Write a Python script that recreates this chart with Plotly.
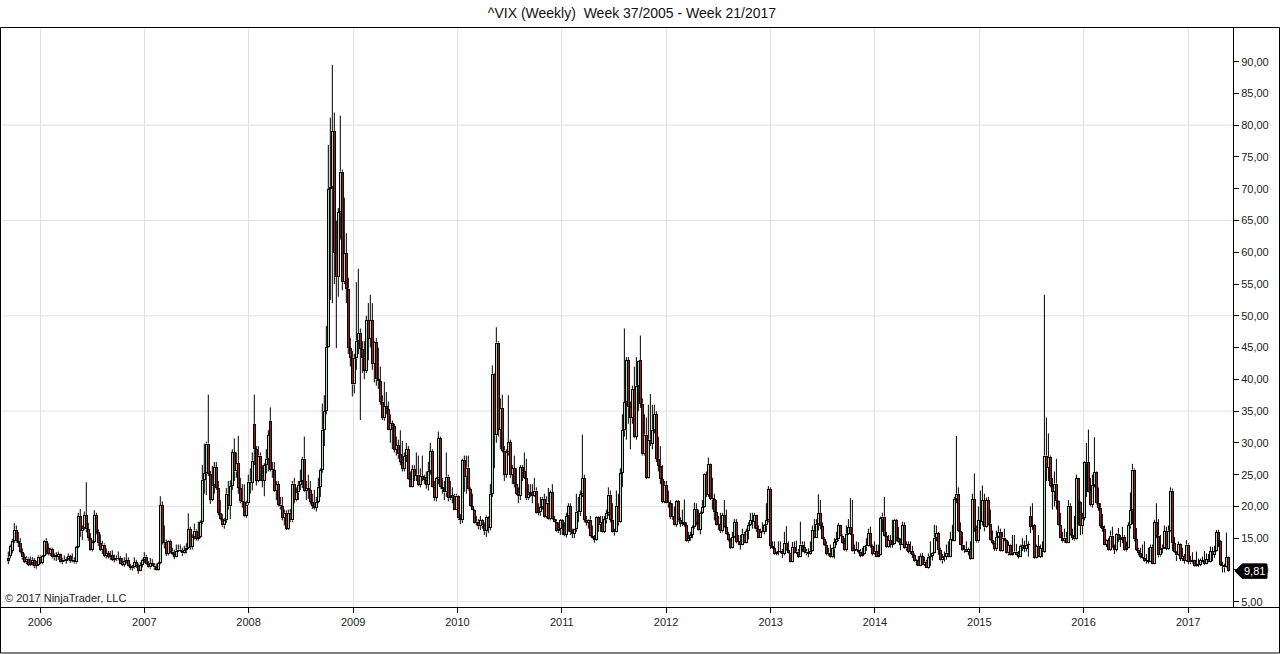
import pandas as pd
import plotly.graph_objects as go

# ---------------- data (weekly OHLC of ^VIX) ----------------
FIRST_WEEK = "2005-09-12"   # Monday of ISO week 37/2005
TITLE = "^VIX (Weekly)\u00a0 Week 37/2005 - Week 21/2017"
COPYRIGHT = "\u00a9 2017 NinjaTrader, LLC"

OPEN = [
    # 2005
    11.9, 12.2, 13.0, 14.6, 16.3, 14.5, 14.3, 12.8, 12.0, 11.3, 11.8, 10.8, 11.1, 11.5, 10.6, 10.8,
    # 2006
    12.1, 11.1, 12.2, 14.6, 13.4, 12.5, 13.3, 12.0, 12.3, 12.1, 12.5, 11.2, 11.6, 11.4, 11.8, 12.2, 11.4, 11.6, 11.2, 13.6,
    18.5, 16.1, 16.6, 18.6, 16.4, 15.0, 13.1, 14.4, 18.6, 16.0, 14.2, 13.2, 14.0, 12.2, 12.6, 12.1, 12.3, 11.6, 11.9, 11.7,
    11.9, 11.0, 10.8, 11.4, 11.5, 10.6, 10.3, 10.4, 11.2, 10.6, 9.9, 10.8,
    # 2007
    11.6, 12.1, 10.9, 10.4, 11.1, 10.7, 10.4, 10.0, 11.1, 20.2, 14.3, 14.4, 12.5, 14.6, 12.9, 12.5, 12.1, 13.0, 13.2, 13.0,
    12.6, 13.1, 13.5, 16.4, 13.6, 15.2, 16.2, 14.9, 15.2, 17.5, 24.2, 25.2, 29.9, 25.1, 21.0, 23.4, 26.2, 22.9, 19.0, 18.0,
    17.0, 17.9, 22.0, 20.0, 23.2, 28.5, 25.5, 26.8, 22.9, 20.8, 20.7, 18.5,
    # 2008
    20.5, 23.9, 23.7, 33.0, 29.0, 24.0, 28.0, 25.0, 24.0, 26.5, 27.5, 33.5, 25.8, 25.7, 22.5, 23.5, 20.3, 20.0, 18.2, 19.0,
    16.5, 19.0, 17.8, 23.6, 21.0, 22.2, 23.4, 24.0, 27.5, 22.5, 22.9, 22.6, 20.7, 20.1, 19.8, 20.7, 23.1, 25.7, 32.1, 35.0,
    45.1, 69.95, 70.3, 79.1, 59.9, 56.1, 66.3, 72.7, 55.3, 59.9, 54.3, 44.9,
    # 2009
    43.4, 39.2, 43.3, 46.1, 47.3, 44.8, 43.4, 41.3, 49.3, 46.4, 49.3, 42.4, 45.9, 40.0, 39.7, 36.5, 33.9, 35.8, 35.3, 32.1,
    33.1, 32.6, 28.9, 29.6, 28.2, 27.0, 25.9, 27.9, 29.0, 24.3, 23.1, 25.9, 24.8, 25.0, 23.4, 24.8, 24.6, 24.2, 23.4, 25.6,
    28.7, 23.1, 21.4, 24.4, 30.7, 23.0, 22.7, 22.2, 24.7, 21.3, 21.6, 21.7, 19.5,
    # 2010
    21.7, 18.1, 17.9, 27.3, 24.6, 26.1, 22.7, 20.0, 19.5, 17.4, 17.6, 16.9, 17.8, 17.0, 16.1, 18.4, 16.6, 22.0, 40.9, 31.2,
    45.8, 32.1, 35.5, 28.8, 25.0, 28.5, 30.1, 25.0, 26.0, 23.5, 22.0, 21.7, 26.2, 25.5, 24.5, 21.3, 22.0, 22.2, 21.7, 22.5,
    19.0, 19.1, 19.9, 21.2, 18.3, 20.6, 18.0, 22.2, 18.0, 17.6, 16.1, 16.5,
    # 2011
    17.8, 17.1, 15.5, 18.5, 20.0, 15.9, 15.7, 16.4, 19.2, 19.1, 21.9, 24.4, 17.9, 17.4, 17.9, 15.3, 15.0, 14.75, 18.4, 17.1,
    17.5, 16.0, 17.95, 18.9, 21.85, 17.9, 16.0, 15.95, 20.0, 17.5, 25.25, 32.0, 36.4, 43.0, 35.6, 33.9, 38.5, 31.0, 39.0, 43.0,
    36.2, 28.2, 31.3, 24.5, 30.5, 29.9, 32.1, 34.5, 27.5, 26.4, 24.3, 20.7,
    # 2012
    23.4, 20.6, 20.5, 18.3, 18.5, 17.1, 20.8, 17.8, 17.3, 17.5, 17.1, 14.5, 15.0, 15.5, 16.7, 19.6, 17.4, 16.3, 19.0, 19.9,
    25.1, 21.8, 26.7, 21.2, 21.1, 19.1, 17.1, 17.2, 16.1, 18.6, 16.7, 15.6, 14.7, 13.5, 15.2, 17.5, 14.4, 14.5, 14.0, 15.7,
    14.3, 16.1, 17.1, 17.8, 17.6, 18.6, 16.4, 15.1, 15.9, 16.0, 17.0, 17.8,
    # 2013
    22.7, 13.8, 13.4, 12.5, 12.95, 12.9, 13.0, 12.5, 14.2, 13.1, 12.6, 11.3, 13.6, 12.7, 12.9, 12.1, 14.0, 13.6, 12.9, 12.6,
    12.5, 13.0, 16.3, 15.1, 17.2, 18.9, 16.9, 14.9, 14.0, 12.5, 12.7, 12.0, 13.4, 14.4, 14.8, 17.0, 15.4, 14.2, 13.1, 15.7,
    16.7, 15.7, 13.0, 13.1, 13.2, 12.9, 12.2, 12.5, 13.7, 13.8, 15.8, 13.8,
    # 2014
    12.5, 13.0, 12.1, 12.4, 18.1, 18.4, 15.3, 13.6, 14.7, 14.0, 14.1, 17.8, 15.0, 14.4, 14.0, 17.0, 13.4, 14.1, 12.9, 13.0,
    12.4, 11.4, 11.5, 10.7, 12.2, 10.85, 11.3, 10.3, 12.1, 12.2, 12.7, 15.1, 15.8, 13.2, 11.5, 12.0, 12.1, 12.7, 12.1, 14.85,
    14.55, 21.2, 22.0, 16.1, 14.0, 13.1, 13.3, 12.9, 13.3, 11.8, 21.1, 16.5,
    # 2015
    14.5, 17.8, 17.6, 20.95, 16.7, 21.0, 17.3, 14.7, 14.3, 13.3, 15.2, 16.0, 13.0, 15.1, 14.7, 12.6, 13.9, 12.3, 12.7, 12.9,
    12.4, 12.1, 13.8, 13.7, 13.3, 13.96, 18.5, 16.8, 17.0, 11.95, 13.7, 12.1, 13.4, 12.8, 28.0, 26.1, 27.8, 23.2, 22.3, 23.6,
    20.9, 17.1, 15.05, 14.5, 15.1, 14.3, 20.1, 15.5, 15.1, 14.8, 24.4, 20.7, 16.9,
    # 2016
    18.2, 26.8, 27.0, 22.3, 20.2, 23.4, 25.4, 20.5, 19.8, 16.9, 16.5, 14.0, 14.7, 13.1, 15.4, 13.6, 13.2, 15.7, 14.7, 15.0,
    15.2, 13.1, 13.5, 17.0, 19.4, 25.8, 14.8, 13.2, 12.7, 12.0, 11.9, 11.4, 11.55, 11.3, 13.65, 11.0, 17.5, 15.4, 12.3, 13.3,
    13.5, 16.1, 13.3, 16.2, 22.5, 14.2, 12.85, 12.3, 14.1, 11.75, 12.2, 11.4,
    # 2017
    14.0, 11.3, 11.2, 11.5, 10.6, 10.9, 10.85, 11.5, 11.45, 10.96, 11.7, 11.3, 12.96, 12.4, 13.0, 15.96, 14.6, 10.8, 10.6, 10.4,
    12.0,
]

HIGH = [
    # 2005
    12.9, 14.0, 14.9, 17.4, 17.0, 16.0, 15.0, 13.4, 12.6, 12.2, 12.0, 12.1, 12.0, 11.9, 11.4, 12.3,
    # 2006
    12.3, 12.4, 14.7, 15.0, 14.2, 13.5, 13.5, 12.6, 12.8, 12.9, 12.6, 11.9, 12.3, 12.0, 12.6, 12.4, 12.6, 12.0, 13.8, 19.0,
    19.6, 17.0, 19.2, 23.8, 17.4, 15.8, 14.7, 19.4, 19.0, 16.4, 15.6, 14.6, 14.2, 13.4, 13.0, 13.0, 13.1, 12.4, 12.3, 12.9,
    12.2, 11.9, 12.0, 12.6, 12.0, 11.0, 10.8, 12.0, 11.6, 11.0, 11.2, 11.8,
    # 2007
    12.8, 12.4, 11.4, 11.9, 11.7, 11.1, 11.0, 11.3, 21.6, 20.8, 17.0, 14.8, 14.7, 14.8, 13.5, 13.2, 14.0, 14.0, 14.0, 13.5,
    13.8, 14.2, 18.9, 16.8, 15.6, 17.3, 16.4, 17.6, 17.8, 26.5, 29.9, 30.2, 37.6, 25.6, 26.4, 27.0, 27.0, 24.0, 21.0, 18.8,
    18.2, 22.9, 24.0, 24.1, 29.0, 30.7, 28.5, 31.1, 24.5, 23.5, 23.5, 20.9,
    # 2008
    25.0, 26.0, 28.5, 37.6, 29.5, 29.5, 28.5, 26.5, 26.8, 29.0, 32.0, 35.6, 27.0, 27.0, 24.0, 24.0, 21.5, 21.5, 19.5, 19.4,
    19.5, 19.6, 24.0, 24.5, 23.0, 24.0, 25.8, 27.8, 31.0, 24.0, 25.0, 24.0, 22.0, 22.6, 21.5, 24.5, 26.0, 36.2, 37.5, 48.4,
    76.9, 81.2, 89.5, 82.0, 65.0, 67.0, 81.5, 73.0, 68.6, 63.0, 56.0, 46.5,
    # 2009
    44.5, 44.0, 55.3, 57.4, 48.0, 46.0, 46.0, 50.0, 52.0, 53.3, 52.0, 46.0, 46.5, 45.0, 42.0, 37.5, 39.6, 38.0, 36.5, 34.5,
    33.5, 33.0, 31.0, 30.5, 32.0, 30.3, 28.5, 30.0, 29.5, 25.5, 26.5, 26.5, 28.5, 28.0, 26.0, 28.0, 25.0, 25.5, 27.0, 30.0,
    29.0, 24.0, 24.6, 31.8, 31.0, 24.5, 24.0, 28.5, 25.0, 24.0, 23.0, 22.0, 22.0,
    # 2010
    21.8, 18.8, 27.5, 28.0, 28.0, 28.0, 23.0, 22.0, 19.6, 18.5, 18.0, 18.5, 18.0, 17.5, 18.6, 18.5, 23.5, 42.2, 41.0, 48.2,
    46.0, 37.0, 37.6, 29.5, 29.0, 37.5, 30.5, 26.5, 28.0, 26.0, 23.0, 26.5, 26.5, 28.5, 27.5, 23.5, 23.5, 23.5, 24.5, 23.0,
    20.5, 21.5, 21.5, 22.0, 21.6, 22.9, 22.5, 23.5, 18.5, 18.0, 17.5, 18.0,
    # 2011
    18.0, 17.5, 19.0, 20.5, 20.5, 16.5, 16.5, 22.0, 21.5, 22.5, 31.3, 25.0, 18.5, 18.0, 18.5, 17.0, 15.5, 18.5, 18.5, 18.5,
    18.5, 18.5, 19.5, 23.0, 22.5, 20.5, 16.5, 22.5, 22.0, 26.0, 34.5, 48.0, 43.5, 43.5, 36.5, 39.0, 42.0, 43.5, 43.0, 46.9,
    37.0, 34.5, 34.0, 36.0, 37.7, 36.0, 36.0, 35.0, 31.0, 29.5, 26.5, 24.0,
    # 2012
    24.0, 22.5, 21.0, 20.5, 20.0, 21.0, 21.0, 18.3, 19.5, 21.1, 17.5, 16.0, 16.0, 17.0, 20.6, 20.5, 19.5, 19.2, 21.0, 25.2,
    25.5, 27.7, 26.8, 24.5, 22.0, 21.0, 18.5, 19.0, 19.0, 21.0, 19.5, 16.0, 15.0, 16.0, 18.0, 18.0, 15.5, 15.5, 16.5, 16.0,
    16.5, 17.5, 19.0, 19.0, 19.0, 18.7, 17.0, 16.5, 17.5, 17.2, 20.5, 23.2,
    # 2013
    23.0, 14.5, 14.5, 13.0, 14.5, 14.5, 13.3, 16.0, 16.9, 14.5, 12.7, 14.4, 14.5, 14.6, 13.3, 17.6, 14.5, 14.5, 13.3, 13.4,
    14.5, 17.0, 18.0, 18.0, 21.9, 21.0, 17.5, 15.2, 14.5, 13.5, 14.0, 13.5, 15.0, 16.0, 17.4, 17.1, 15.6, 15.0, 17.0, 18.0,
    21.3, 21.0, 14.0, 14.5, 14.4, 13.3, 13.5, 13.8, 15.0, 16.5, 16.8, 14.0,
    # 2014
    14.5, 14.0, 14.0, 18.4, 19.0, 21.5, 16.0, 15.5, 15.5, 17.9, 18.0, 18.0, 16.8, 15.0, 17.6, 17.5, 14.5, 14.5, 14.5, 13.8,
    12.6, 11.7, 12.2, 12.6, 12.7, 12.1, 11.6, 12.6, 14.5, 12.8, 17.1, 17.0, 16.0, 13.5, 12.5, 12.9, 14.0, 14.5, 16.0, 17.1,
    21.5, 31.1, 23.0, 17.5, 16.0, 13.9, 14.5, 13.5, 14.5, 22.0, 25.2, 17.0,
    # 2015
    20.0, 22.5, 23.3, 22.0, 21.4, 21.5, 19.5, 16.2, 14.5, 16.2, 17.0, 16.5, 16.0, 16.5, 14.8, 14.5, 14.0, 15.5, 15.5, 14.1,
    13.0, 14.0, 15.0, 14.6, 15.5, 14.5, 20.0, 20.5, 17.2, 14.0, 15.5, 14.0, 14.5, 53.3, 34.0, 31.5, 28.0, 24.5, 25.5, 27.5,
    21.0, 19.0, 16.0, 16.5, 16.0, 21.0, 20.5, 16.5, 18.5, 25.0, 24.5, 20.8, 19.0,
    # 2016
    27.1, 30.0, 32.1, 24.5, 25.0, 30.9, 25.5, 23.0, 20.5, 18.8, 17.0, 14.8, 15.0, 16.2, 16.8, 14.0, 15.8, 16.6, 15.5, 16.8,
    15.5, 14.5, 17.5, 22.2, 26.7, 26.0, 16.6, 13.5, 13.5, 14.0, 14.5, 12.5, 13.5, 14.0, 14.0, 17.9, 20.5, 18.0, 15.5, 14.0,
    17.0, 16.8, 17.0, 23.0, 22.8, 15.2, 13.0, 14.5, 14.2, 13.5, 12.5, 14.7,
    # 2017
    14.2, 12.2, 12.8, 11.6, 12.9, 11.8, 11.8, 12.1, 13.0, 12.6, 12.5, 13.7, 13.6, 13.8, 16.3, 16.3, 14.7, 11.3, 11.0, 15.9,
    12.1,
]

LOW = [
    # 2005
    10.9, 11.8, 12.6, 14.2, 14.3, 13.6, 12.6, 11.6, 11.1, 10.9, 10.6, 10.6, 10.7, 10.3, 10.2, 10.6,
    # 2006
    10.9, 10.9, 12.0, 12.4, 12.3, 12.2, 11.8, 11.5, 11.4, 11.6, 11.1, 10.9, 11.3, 11.0, 11.5, 11.1, 11.2, 11.0, 11.0, 13.4,
    15.2, 14.7, 16.3, 15.9, 14.6, 13.0, 12.9, 14.2, 15.6, 13.8, 13.0, 12.5, 12.0, 11.8, 11.8, 11.6, 11.4, 11.2, 11.4, 11.5,
    10.9, 10.6, 10.5, 11.0, 10.5, 10.0, 9.9, 10.2, 10.3, 9.4, 9.8, 10.4,
    # 2007
    11.1, 10.8, 10.3, 10.2, 10.6, 10.0, 9.9, 9.9, 10.9, 14.0, 13.4, 12.2, 12.3, 12.6, 12.3, 11.7, 12.0, 12.8, 12.8, 12.2,
    12.5, 12.6, 13.3, 13.2, 13.2, 14.8, 14.6, 14.6, 15.0, 17.2, 22.0, 21.8, 24.8, 20.4, 20.8, 22.0, 22.6, 18.6, 17.8, 16.8,
    16.5, 17.4, 19.5, 18.0, 22.6, 24.0, 24.5, 22.0, 20.5, 19.8, 18.4, 18.2,
    # 2008
    20.2, 22.0, 22.5, 26.5, 23.3, 23.8, 24.0, 23.0, 21.6, 25.2, 25.5, 25.5, 24.5, 22.3, 21.0, 20.0, 19.5, 17.8, 17.0, 16.3,
    16.3, 17.6, 17.5, 20.5, 20.8, 21.0, 22.6, 22.9, 22.3, 21.0, 21.2, 20.3, 19.6, 19.5, 19.2, 20.5, 21.5, 25.3, 29.5, 34.5,
    45.0, 52.5, 52.0, 55.0, 44.9, 53.0, 62.0, 54.0, 55.0, 52.0, 44.0, 42.0,
    # 2009
    37.3, 37.8, 41.5, 44.0, 33.6, 41.0, 40.0, 41.0, 43.0, 45.0, 41.5, 39.5, 39.0, 38.5, 36.0, 33.6, 33.5, 34.5, 32.0, 30.0,
    29.0, 28.5, 28.0, 27.5, 26.5, 25.5, 25.5, 27.0, 24.2, 23.0, 23.0, 24.0, 24.0, 23.2, 23.0, 24.0, 23.5, 22.8, 22.5, 25.0,
    23.0, 20.9, 20.8, 23.5, 22.8, 22.0, 21.0, 21.5, 20.8, 21.0, 20.5, 19.4, 19.4,
    # 2010
    17.9, 17.2, 17.4, 22.3, 22.0, 22.5, 19.9, 19.4, 17.3, 17.0, 16.4, 16.3, 16.5, 15.5, 15.2, 15.8, 16.2, 21.5, 26.0, 30.0,
    31.0, 29.0, 28.5, 24.0, 24.5, 28.0, 24.5, 23.5, 23.0, 21.8, 20.5, 21.0, 24.0, 24.3, 21.0, 21.0, 21.5, 20.5, 21.5, 18.9,
    18.6, 18.5, 19.5, 18.2, 18.1, 17.9, 17.8, 17.9, 17.5, 16.0, 15.8, 15.5,
    # 2011
    15.5, 15.3, 15.1, 16.0, 15.5, 15.0, 15.0, 16.0, 17.5, 18.5, 21.5, 17.5, 17.0, 16.5, 15.2, 14.9, 14.3, 14.6, 16.0, 16.0,
    15.9, 15.8, 17.3, 18.5, 17.5, 15.9, 15.4, 15.9, 17.0, 17.4, 23.0, 31.0, 30.5, 33.0, 29.0, 33.0, 30.8, 30.5, 35.0, 35.5,
    28.0, 28.0, 24.3, 24.4, 29.5, 29.0, 31.5, 27.0, 25.5, 23.5, 20.5, 20.5,
    # 2012
    20.5, 19.8, 18.0, 17.9, 17.0, 16.8, 17.6, 16.8, 16.9, 16.8, 14.4, 14.3, 14.6, 15.0, 16.5, 17.0, 16.2, 15.6, 18.8, 19.8,
    21.5, 21.5, 21.0, 19.5, 17.8, 17.0, 16.3, 15.8, 15.9, 16.6, 15.5, 14.5, 13.3, 13.4, 15.0, 14.2, 13.9, 13.2, 13.9, 14.2,
    14.2, 14.8, 16.9, 16.5, 16.5, 16.0, 15.0, 15.0, 15.8, 15.6, 16.0, 17.5,
    # 2013
    13.3, 13.3, 12.4, 12.3, 12.3, 12.6, 11.9, 12.3, 13.0, 12.5, 11.2, 11.2, 12.6, 12.5, 11.9, 12.0, 12.8, 12.6, 12.3, 12.0,
    12.4, 12.9, 15.0, 15.0, 16.2, 16.4, 14.8, 13.8, 12.3, 12.2, 11.9, 11.9, 11.8, 13.9, 14.5, 15.3, 14.1, 13.0, 12.9, 15.5,
    15.5, 12.9, 12.5, 13.0, 12.6, 12.0, 12.1, 12.4, 13.0, 13.7, 13.5, 12.3,
    # 2014
    12.4, 12.0, 12.0, 12.3, 16.0, 15.2, 13.5, 13.5, 13.5, 13.5, 14.0, 14.5, 14.3, 13.1, 13.9, 13.3, 13.0, 12.6, 12.5, 11.9,
    11.3, 10.7, 10.6, 10.6, 10.8, 10.6, 10.3, 10.2, 10.6, 11.5, 12.6, 14.5, 12.4, 11.4, 11.0, 11.3, 11.6, 12.0, 12.0, 14.5,
    14.5, 20.5, 16.0, 13.9, 13.0, 12.7, 12.8, 12.3, 11.6, 11.7, 16.0, 14.3,
    # 2015
    14.3, 16.4, 17.0, 16.1, 16.6, 17.0, 14.6, 14.0, 13.0, 13.0, 15.0, 12.9, 12.9, 14.5, 12.5, 12.3, 12.2, 12.2, 12.6, 12.3,
    11.8, 12.0, 13.0, 12.8, 12.9, 12.1, 15.8, 16.3, 11.8, 11.8, 12.0, 11.9, 12.0, 12.7, 24.0, 24.0, 23.0, 19.5, 20.0, 19.5,
    17.0, 15.0, 14.3, 14.3, 14.2, 14.2, 15.4, 14.7, 14.6, 14.7, 17.0, 15.5, 15.6,
    # 2016
    17.8, 21.5, 22.2, 20.0, 19.8, 23.0, 20.3, 19.3, 16.6, 16.0, 13.9, 13.6, 13.0, 13.0, 13.5, 12.5, 12.9, 14.4, 13.6, 14.2,
    13.0, 12.9, 13.4, 16.5, 17.2, 14.5, 13.0, 12.3, 11.8, 11.8, 11.3, 11.0, 11.0, 11.2, 10.9, 10.9, 15.0, 12.0, 12.1, 12.6,
    13.3, 13.1, 13.2, 16.0, 13.0, 12.7, 11.4, 12.2, 11.4, 11.4, 11.0, 11.3,
    # 2017
    10.9, 10.9, 11.0, 10.5, 10.5, 10.5, 10.6, 11.2, 10.8, 10.9, 11.2, 11.2, 11.4, 11.9, 12.9, 13.6, 10.6, 9.6, 9.6, 10.3,
    9.7,
]

CLOSE = [
    # 2005
    11.4, 13.7, 14.6, 16.3, 14.5, 14.3, 12.8, 12.0, 11.3, 11.8, 10.8, 11.1, 11.5, 10.6, 10.8, 12.1,
    # 2006
    11.1, 12.2, 14.6, 12.9, 12.5, 13.3, 12.0, 12.3, 12.1, 12.5, 11.2, 11.6, 11.4, 11.8, 12.2, 11.4, 11.6, 11.2, 13.6, 18.5,
    16.1, 16.6, 18.6, 16.4, 15.0, 13.1, 14.4, 18.6, 16.0, 14.2, 13.2, 14.0, 12.2, 12.6, 12.1, 12.3, 11.6, 11.9, 11.7, 11.9,
    11.0, 10.8, 11.4, 11.5, 10.6, 10.3, 10.4, 11.2, 10.6, 9.9, 10.8, 11.6,
    # 2007
    12.1, 10.9, 10.4, 11.1, 10.7, 10.4, 10.0, 11.1, 20.2, 14.3, 14.4, 12.5, 14.6, 12.9, 12.5, 12.1, 13.0, 13.2, 13.0, 12.6,
    13.1, 13.5, 16.4, 13.6, 15.2, 16.2, 14.9, 15.2, 17.5, 24.2, 25.2, 29.9, 25.1, 21.0, 23.4, 26.2, 22.9, 19.0, 18.0, 17.0,
    17.9, 22.0, 20.0, 23.2, 28.5, 25.5, 26.8, 22.9, 20.8, 20.7, 18.5, 20.3,
    # 2008
    23.9, 23.7, 27.2, 29.0, 24.0, 28.0, 25.0, 24.0, 26.5, 27.5, 31.2, 25.8, 25.7, 22.5, 23.5, 20.3, 20.0, 18.2, 19.0, 16.5,
    19.0, 17.8, 23.6, 21.0, 22.2, 23.4, 24.0, 27.5, 22.5, 22.9, 22.6, 20.7, 20.1, 19.8, 20.7, 23.1, 25.7, 32.1, 35.0, 45.1,
    69.95, 70.3, 79.1, 59.9, 56.1, 66.3, 72.7, 55.3, 59.9, 54.3, 44.9, 43.4,
    # 2009
    39.2, 43.3, 46.1, 47.3, 44.8, 43.4, 41.3, 49.3, 46.4, 49.3, 42.4, 45.9, 40.0, 39.7, 36.5, 33.9, 35.8, 35.3, 32.1, 33.1,
    32.6, 28.9, 29.6, 28.2, 27.0, 25.9, 27.9, 29.0, 24.3, 23.1, 25.9, 24.8, 25.0, 23.4, 24.8, 24.6, 24.2, 23.4, 25.6, 28.7,
    23.1, 21.4, 24.4, 30.7, 23.0, 22.7, 22.2, 24.7, 21.3, 21.6, 21.7, 19.5, 21.7,
    # 2010
    18.1, 17.9, 27.3, 24.6, 26.1, 22.7, 20.0, 19.5, 17.4, 17.6, 16.9, 17.8, 17.0, 16.1, 18.4, 16.6, 22.0, 40.9, 31.2, 45.8,
    32.1, 35.5, 28.8, 25.0, 28.5, 30.1, 25.0, 26.0, 23.5, 22.0, 21.7, 26.2, 25.5, 24.5, 21.3, 22.0, 22.2, 21.7, 22.5, 19.0,
    19.1, 19.9, 21.2, 18.3, 20.6, 18.0, 22.2, 18.0, 17.6, 16.1, 16.5, 17.8,
    # 2011
    17.1, 15.5, 18.5, 20.0, 15.9, 15.7, 16.4, 19.2, 19.1, 21.9, 24.4, 17.9, 17.4, 17.9, 15.3, 15.0, 14.75, 18.4, 17.1, 17.5,
    16.0, 17.95, 18.9, 21.85, 17.9, 16.0, 15.95, 20.0, 17.5, 25.25, 32.0, 36.4, 43.0, 35.6, 33.9, 38.5, 31.0, 39.0, 42.96, 36.2,
    28.2, 31.3, 24.5, 30.5, 29.9, 32.1, 34.5, 27.5, 26.4, 24.3, 20.7, 23.4,
    # 2012
    20.6, 20.5, 18.3, 18.5, 17.1, 20.8, 17.8, 17.3, 17.5, 17.1, 14.5, 15.0, 15.5, 16.7, 19.6, 17.4, 16.3, 19.0, 19.9, 25.1,
    21.8, 26.7, 21.2, 21.1, 19.1, 17.1, 17.2, 16.1, 18.6, 16.7, 15.6, 14.7, 13.5, 15.2, 17.5, 14.4, 14.5, 14.0, 15.7, 14.3,
    16.1, 17.1, 17.8, 17.6, 18.6, 16.4, 15.1, 15.9, 16.0, 17.0, 17.8, 22.7,
    # 2013
    13.8, 13.4, 12.5, 12.9, 12.9, 13.0, 12.5, 14.2, 13.1, 12.6, 11.3, 13.6, 12.7, 12.9, 12.1, 14.0, 13.6, 12.9, 12.6, 12.5,
    13.0, 16.3, 15.1, 17.2, 18.9, 16.9, 14.9, 14.0, 12.5, 12.7, 12.0, 13.4, 14.4, 14.8, 17.0, 15.4, 14.2, 13.1, 15.7, 16.7,
    15.7, 13.0, 13.1, 13.2, 12.9, 12.2, 12.5, 13.7, 13.8, 15.8, 13.8, 12.5,
    # 2014
    13.0, 12.1, 12.4, 18.1, 18.4, 15.3, 13.6, 14.7, 14.0, 14.1, 17.8, 15.0, 14.4, 14.0, 17.0, 13.4, 14.1, 12.9, 13.0, 12.4,
    11.4, 11.5, 10.7, 12.2, 10.85, 11.3, 10.3, 12.1, 12.2, 12.7, 15.1, 15.8, 13.2, 11.5, 12.0, 12.1, 12.7, 12.1, 14.85, 14.55,
    21.2, 22.0, 16.1, 14.0, 13.1, 13.3, 12.9, 13.3, 11.8, 21.1, 16.5, 14.5,
    # 2015
    17.8, 17.6, 20.95, 16.7, 21.0, 17.3, 14.7, 14.3, 13.3, 15.2, 16.0, 13.0, 15.1, 14.7, 12.6, 13.9, 12.3, 12.7, 12.9, 12.4,
    12.1, 13.8, 13.7, 13.3, 13.96, 14.0, 16.8, 17.0, 11.95, 13.7, 12.1, 13.4, 12.8, 28.0, 26.1, 27.8, 23.2, 22.3, 23.6, 20.9,
    17.1, 15.05, 14.5, 15.1, 14.3, 20.1, 15.5, 15.1, 14.8, 24.4, 20.7, 16.9, 18.2,
    # 2016
    27.0, 27.0, 22.3, 20.2, 23.4, 25.4, 20.5, 19.8, 16.9, 16.5, 14.0, 14.7, 13.1, 15.4, 13.6, 13.2, 15.7, 14.7, 15.0, 15.2,
    13.1, 13.5, 17.0, 19.4, 25.8, 14.8, 13.2, 12.7, 12.0, 11.9, 11.4, 11.55, 11.3, 13.65, 11.0, 17.5, 15.4, 12.3, 13.3, 13.5,
    16.1, 13.3, 16.2, 22.5, 14.2, 12.85, 12.3, 14.1, 11.75, 12.2, 11.4, 14.0,
    # 2017
    11.3, 11.2, 11.5, 10.6, 10.9, 10.85, 11.5, 11.45, 10.96, 11.7, 11.3, 12.96, 12.4, 13.0, 15.96, 14.6, 10.8, 10.6, 10.4, 12.0,
    9.81,
]

Y_TICKS = list(range(5, 95, 5))          # labelled price levels
GRID_LEVELS = [5, 20, 35, 50, 65, 80]    # horizontal grid lines
X_RANGE = ["2005-08-21", "2017-06-07"]
Y_RANGE = [4.17, 95.3]

# ---------------- figure ----------------
dates = pd.date_range(FIRST_WEEK, periods=len(CLOSE), freq="7D")

GREEN = "#a8e2a8"
RED = "#a8141a"
GRID = "#e2e2e2"
FONT = "Liberation Sans, Arial, sans-serif"
DAY_MS = 24 * 3600 * 1000
OUTER_W = 9.5 * DAY_MS     # black outline box width on the date axis
INNER_W = 3.6 * DAY_MS     # coloured interior width

# plot area in pixels: x 2..1233, y 28..607
L, R, T, B = 2, 1233, 28, 607
W, H = R - L, B - T
UNIT_PX = H / (Y_RANGE[1] - Y_RANGE[0])
INSET = 1.0 / UNIT_PX      # one pixel, in price units

top = [max(o, c) for o, c in zip(OPEN, CLOSE)]
bot = [min(o, c) for o, c in zip(OPEN, CLOSE)]
body_len = [max(t - b, 1.0 / UNIT_PX) for t, b in zip(top, bot)]
body_col = [GREEN if c >= o else RED for o, c in zip(OPEN, CLOSE)]
inner_base = [b + INSET for b in bot]
inner_len = [max(h - 2 * INSET, 0) for h in body_len]

# wicks: upper (body top -> high) and lower (low -> body bottom) segments
wick_x, wick_y = [], []
for d, lo, hi, t, b in zip(dates, LOW, HIGH, top, bot):
    wick_x += [d, d, None, d, d, None]
    wick_y += [t, hi, None, lo, b, None]

fig = go.Figure()
fig.add_trace(go.Bar(
    x=dates, y=body_len, base=bot, width=OUTER_W,
    marker=dict(color="black", line=dict(width=0)),
    hoverinfo="skip", showlegend=False,
))
fig.add_trace(go.Bar(
    x=dates, y=inner_len, base=inner_base, width=INNER_W,
    marker=dict(color=body_col, line=dict(width=0)),
    hoverinfo="skip", showlegend=False,
))
fig.add_trace(go.Scatter(
    x=wick_x, y=wick_y, mode="lines", line=dict(color="black", width=1),
    hoverinfo="skip", showlegend=False,
))


def px_x(p):
    return (p - L) / W


def px_y(p):
    return (B - p) / H


shapes = []
for g in GRID_LEVELS:
    shapes.append(dict(type="line", xref="paper", yref="y", x0=0, x1=1, y0=g, y1=g,
                       line=dict(color=GRID, width=1), layer="below"))
# outer frame and the full-width baseline
shapes.append(dict(type="rect", xref="paper", yref="paper",
                   x0=px_x(0.5), x1=px_x(1279.5), y0=px_y(653), y1=px_y(27.5),
                   line=dict(color="black", width=1), layer="above"))
shapes.append(dict(type="line", xref="paper", yref="paper",
                   x0=px_x(0.5), x1=px_x(1279.5), y0=px_y(607.5), y1=px_y(607.5),
                   line=dict(color="black", width=1), layer="above"))

# last-price tag
last = CLOSE[-1]
half = 7 / UNIT_PX
tip, body0, body1 = px_x(1235), px_x(1242), px_x(1267)
shapes.append(dict(
    type="path", xref="paper", yref="y",
    path=(f"M {tip},{last} L {body0},{last + half} L {body1},{last + half} "
          f"L {body1},{last - half} L {body0},{last - half} Z"),
    fillcolor="black", line=dict(color="black", width=1), layer="above"))

annotations = [
    dict(text=f"{last:.2f}".replace(".", ","), xref="paper", yref="y",
         x=(body0 + body1) / 2, y=last, showarrow=False, xanchor="center", yanchor="middle",
         bgcolor="black", borderpad=1,
         font=dict(family=FONT, size=11, color="white")),
    dict(text=COPYRIGHT, xref="paper", yref="paper", x=px_x(3), y=0, xanchor="left",
         yanchor="bottom", showarrow=False, yshift=1,
         font=dict(family=FONT, size=11, color="#222222")),
]

fig.update_layout(
    width=1280, height=654,
    margin=dict(l=L, r=1280 - R, t=T, b=654 - B, pad=0),
    paper_bgcolor="white", plot_bgcolor="white",
    separators=",.",
    barmode="overlay", bargap=0,
    title=dict(text=TITLE, x=632 / 1280, xref="container", xanchor="center",
               y=1 - 13 / 654, yref="container", yanchor="middle",
               font=dict(family=FONT, size=14, color="#111111")),
    font=dict(family=FONT, size=11, color="#222222"),
    hovermode=False,
    shapes=shapes,
    annotations=annotations,
    xaxis=dict(
        type="date", range=X_RANGE,
        tickformat="%Y", dtick="M12", tick0="2006-01-01",
        ticks="outside", ticklen=5, tickcolor="black", tickwidth=1,
        showgrid=True, gridcolor=GRID, gridwidth=1,
        showline=False, zeroline=False,
        tickfont=dict(family=FONT, size=11, color="#222222"),
    ),
    yaxis=dict(
        side="right", range=Y_RANGE, tickvals=Y_TICKS, tickformat=".2f",
        ticks="outside", ticklen=5, tickcolor="black", tickwidth=1,
        showline=True, linecolor="black", linewidth=1, mirror=False,
        showgrid=False, zeroline=False,
        tickfont=dict(family=FONT, size=11, color="#222222"),
    ),
)

fig.write_html(
    "out.html",
    config={"displayModeBar": False, "staticPlot": True},
    post_script="document.body.style.margin='0px';document.body.style.overflow='hidden';",
)
